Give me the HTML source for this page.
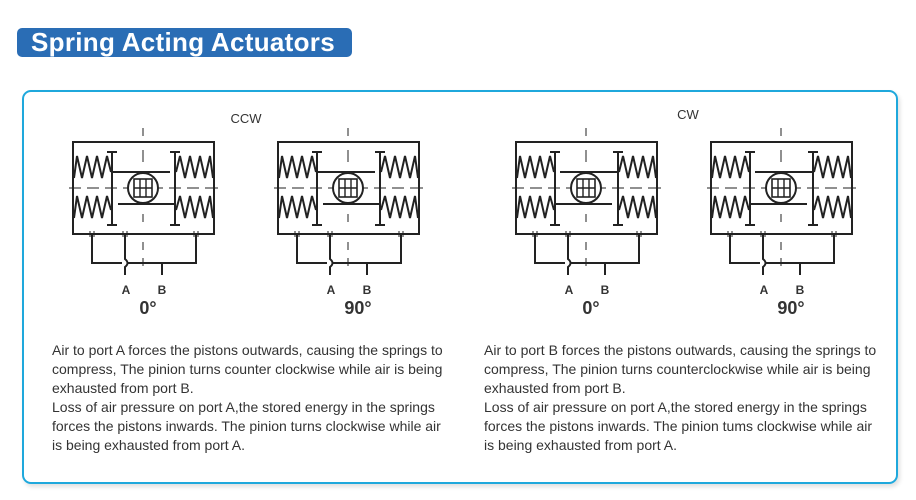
<!DOCTYPE html>
<html><head><meta charset="utf-8"><style>
body{margin:0;width:916px;height:500px;background:#fff;font-family:"Liberation Sans",sans-serif;position:relative;overflow:hidden}
.pill{position:absolute;left:17px;top:28px;width:335px;height:29px;background:#2a6db5;border-radius:5px;color:#fff;font-size:26px;font-weight:bold;line-height:29px;padding-left:14px;box-sizing:border-box;letter-spacing:0.3px}
.box{position:absolute;left:22px;top:90px;width:876px;height:394px;border:2px solid #1fa8dc;border-radius:9px;box-sizing:border-box;box-shadow:2px 3px 4px rgba(0,0,0,0.12)}
.p{position:absolute;font-size:14px;line-height:19px;color:#333;width:430px;white-space:nowrap}
svg{position:absolute;left:0;top:0}
</style></head><body>
<div class="pill">Spring Acting Actuators</div>
<div class="box"></div>
<svg width="916" height="500" viewBox="0 0 916 500">
<defs>
<g id="base" fill="none" stroke="#222" stroke-width="2">
<rect x="0" y="0" width="141" height="92"/>
<path d="M70 -14V-6 M70 8V20 M70 72V80 M70 100V108 M70 116V124" stroke-width="1"/>
<path d="M-4 46H8 M14 46H26 M32 46H44 M50 46H56 M84 46H90 M96 46H108 M114 46H126 M132 46H145" stroke-width="1"/>
<path d="M39 10V83 M34 10H44 M34 83H44 M102 10V83 M97 10H107 M97 83H107"/>
<path d="M1 36 L4 14 L9 36 L14 14 L19 36 L24 14 L29 36 L34 14 L38 30"/>
<path d="M1 76 L4 54 L9 76 L14 54 L19 76 L24 54 L29 76 L34 54 L38 68"/>
<path d="M140 36 L137 14 L132 36 L127 14 L122 36 L117 14 L112 36 L107 14 L103 30"/>
<path d="M140 76 L137 54 L132 76 L127 54 L122 76 L117 54 L112 76 L107 54 L103 68"/>
<circle cx="70" cy="46" r="15"/>
<rect x="61" y="37" width="18" height="18" stroke-width="1.6"/>
<path d="M67 37V55 M73 37V55 M61 46H79" stroke-width="1.4"/>
<path d="M19 92V121H49 M55 121H123V92 M52 92V117 Q57 121 52 125V133 M89 121V133"/>
<path d="M17 89V95 M21 89V95 M50 89V95 M54 89V95 M121 89V95 M125 89V95" stroke-width="1"/>
</g>
<g id="ccw" fill="none" stroke="#222" stroke-width="2"><path d="M39 30H97 M45 62H102"/></g>
<g id="cw" fill="none" stroke="#222" stroke-width="2"><path d="M44 30H102 M39 62H96"/></g>
</defs>
<g transform="translate(73,142)"><use href="#base"/><use href="#ccw"/></g>
<g transform="translate(278,142)"><use href="#base"/><use href="#ccw"/></g>
<g transform="translate(516,142)"><use href="#base"/><use href="#cw"/></g>
<g transform="translate(711,142)"><use href="#base"/><use href="#cw"/></g>
<g font-family="Liberation Sans,sans-serif" fill="#333">
<text x="246" y="123" font-size="13" text-anchor="middle">CCW</text>
<text x="688" y="119" font-size="13" text-anchor="middle">CW</text>
<g font-size="12" font-weight="bold" text-anchor="middle">
<text x="126" y="294">A</text><text x="162" y="294">B</text>
<text x="331" y="294">A</text><text x="367" y="294">B</text>
<text x="569" y="294">A</text><text x="605" y="294">B</text>
<text x="764" y="294">A</text><text x="800" y="294">B</text>
</g>
<g font-size="18" font-weight="bold" text-anchor="middle">
<text x="148" y="314">0°</text><text x="358" y="314">90°</text>
<text x="591" y="314">0°</text><text x="791" y="314">90°</text>
</g>
</g>
</svg>
<div class="p" style="left:52px;top:341px">Air to port A forces the pistons outwards, causing the springs to<br>compress, The pinion turns counter clockwise while air is being<br>exhausted from port B.<br>Loss of air pressure on port A,the stored energy in the springs<br>forces the pistons inwards. The pinion turns clockwise while air<br>is being exhausted from port A.</div>
<div class="p" style="left:484px;top:341px">Air to port B forces the pistons outwards, causing the springs to<br>compress, The pinion turns counterclockwise while air is being<br>exhausted from port B.<br>Loss of air pressure on port A,the stored energy in the springs<br>forces the pistons inwards. The pinion tums clockwise while air<br>is being exhausted from port A.</div>
</body></html>
